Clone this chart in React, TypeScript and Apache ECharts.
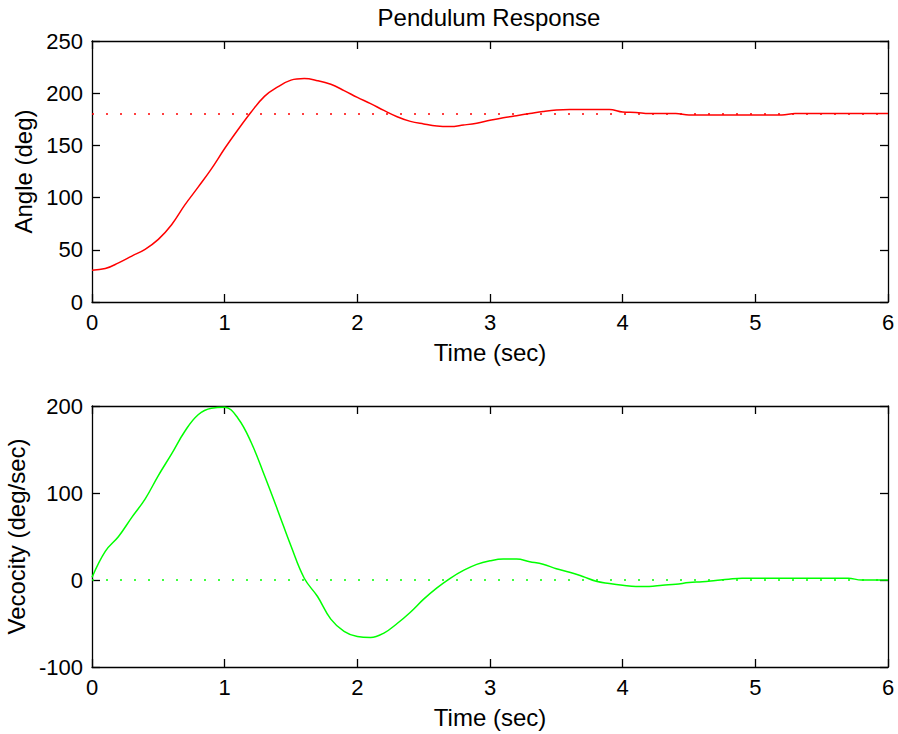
import React, { useEffect, useRef } from "react";
import * as echarts from "echarts";

const time = [
  0, 0.1, 0.2, 0.3, 0.4, 0.5, 0.6, 0.7, 0.8, 0.9,
  1, 1.1, 1.2, 1.3, 1.4, 1.5, 1.6, 1.7, 1.8, 1.9,
  2, 2.1, 2.2, 2.3, 2.4, 2.5, 2.6, 2.7, 2.8, 2.9,
  3, 3.1, 3.2, 3.3, 3.4, 3.5, 3.6, 3.7, 3.8, 3.9,
  4, 4.1, 4.2, 4.3, 4.4, 4.5, 4.6, 4.7, 4.8, 4.9,
  5, 5.1, 5.2, 5.3, 5.4, 5.5, 5.6, 5.7, 5.8, 5.9, 6,
];

const angle = [
  30.5, 32, 37.5, 44, 50.5, 60, 74, 93, 110, 127.5,
  147, 165, 182, 197, 206, 212.5, 214, 212, 208.5, 202.5,
  196, 190, 183.5, 177.5, 173, 170.5, 168.5, 168, 169.5, 171.3,
  174, 176.5, 178.5, 180.5, 182.5, 184, 184.5, 184.5, 184.5, 184.5,
  182, 181.5, 180.5, 180.5, 180.5, 179, 179, 179, 179, 179,
  179, 179, 179, 180.5, 180.5, 180.5, 180.5, 180.5, 180.5, 180.5, 180.5,
];

const velocity = [
  3, 33, 50, 72, 93, 120, 145, 171, 190, 197.5,
  198.5, 186, 158, 120, 80, 39, 2, -19, -45, -59,
  -65, -66, -61, -50, -37, -22, -9, 2, 11, 18,
  22, 24, 24, 21, 18, 13, 9, 4, -1.5, -4,
  -6, -7.4, -7.4, -6, -5, -3, -2, -0.5, 1, 2,
  2, 2, 2, 2, 2, 2, 2, 2, 0, 0, 0,
];

const angleTarget = [180, 180];
const velocityTarget = [0, 0];
const targetTime = [0, 6];

const xTicks = [0, 1, 2, 3, 4, 5, 6];
const angleTicks = [0, 50, 100, 150, 200, 250];
const velocityTicks = [-100, 0, 100, 200];

const FONT = "Liberation Sans, Arial, Helvetica, sans-serif";
const FS = 22;
const FS_NAME = 24;

export default function App() {
  const ref = useRef<HTMLDivElement>(null);

  useEffect(() => {
    if (!ref.current) return;
    const chart = echarts.init(ref.current, null, { renderer: "svg" });

    const axisLine = { show: true, onZero: false, lineStyle: { color: "#000", width: 1.3 } };
    const tick = { show: true, inside: true, length: 8, lineStyle: { color: "#000", width: 1.3 } };
    const label = { color: "#000", fontSize: FS, fontFamily: FONT };
    const nameStyle = { color: "#000", fontSize: FS_NAME, fontFamily: FONT };

    const xMain = (gridIndex: number) => ({
      type: "value",
      gridIndex,
      min: xTicks[0],
      max: xTicks[xTicks.length - 1],
      interval: 1,
      position: "bottom",
      axisLine,
      axisTick: tick,
      splitLine: { show: false },
      axisLabel: { ...label, margin: 9 },
      name: "Time (sec)",
      nameLocation: "middle",
      nameGap: 38,
      nameTextStyle: nameStyle,
    });
    const xMirror = (gridIndex: number) => ({
      type: "value",
      gridIndex,
      min: xTicks[0],
      max: xTicks[xTicks.length - 1],
      interval: 1,
      position: "top",
      axisLine,
      axisTick: tick,
      splitLine: { show: false },
      axisLabel: { show: false },
    });
    const yMain = (gridIndex: number, ticks: number[], name: string, gap: number) => ({
      type: "value",
      gridIndex,
      min: ticks[0],
      max: ticks[ticks.length - 1],
      interval: ticks[1] - ticks[0],
      position: "left",
      axisLine,
      axisTick: tick,
      splitLine: { show: false },
      axisLabel: { ...label, margin: 9 },
      name,
      nameLocation: "middle",
      nameGap: gap,
      nameTextStyle: nameStyle,
    });
    const yMirror = (gridIndex: number, ticks: number[]) => ({
      type: "value",
      gridIndex,
      min: ticks[0],
      max: ticks[ticks.length - 1],
      interval: ticks[1] - ticks[0],
      position: "right",
      axisLine,
      axisTick: tick,
      splitLine: { show: false },
      axisLabel: { show: false },
    });

    const zip = (xs: number[], ys: number[]) => xs.map((x, i) => [x, ys[i]]);

    chart.setOption({
      animation: false,
      backgroundColor: "#fff",
      textStyle: { fontFamily: FONT },
      graphic: [
        {
          type: "text",
          x: 489,
          y: 17,
          style: {
            text: "Pendulum Response",
            fill: "#000",
            font: `${FS_NAME}px ${FONT}`,
            textAlign: "center",
            textVerticalAlign: "middle",
          },
        },
      ],
      grid: [
        { left: 92, top: 41, width: 796, height: 261, containLabel: false, outerBoundsMode: "none" },
        { left: 92, top: 406, width: 796, height: 261, containLabel: false, outerBoundsMode: "none" },
      ],
      xAxis: [xMain(0), xMirror(0), xMain(1), xMirror(1)],
      yAxis: [
        yMain(0, angleTicks, "Angle (deg)", 55),
        yMirror(0, angleTicks),
        yMain(1, velocityTicks, "Vecocity (deg/sec)", 62),
        yMirror(1, velocityTicks),
      ],
      series: [
        {
          type: "line",
          xAxisIndex: 0,
          yAxisIndex: 0,
          data: zip(targetTime, angleTarget),
          showSymbol: false,
          lineStyle: { color: "#ff0000", width: 1.5, type: [2, 12] },
        },
        {
          type: "line",
          xAxisIndex: 0,
          yAxisIndex: 0,
          data: zip(time, angle),
          showSymbol: false,
          smooth: 0.4,
          lineStyle: { color: "#ff0000", width: 1.5 },
        },
        {
          type: "line",
          xAxisIndex: 2,
          yAxisIndex: 2,
          data: zip(targetTime, velocityTarget),
          showSymbol: false,
          lineStyle: { color: "#00ff00", width: 1.5, type: [2, 12] },
        },
        {
          type: "line",
          xAxisIndex: 2,
          yAxisIndex: 2,
          data: zip(time, velocity),
          showSymbol: false,
          smooth: 0.4,
          lineStyle: { color: "#00ff00", width: 1.5 },
        },
      ],
    });

    return () => chart.dispose();
  }, []);

  return (
    <div
      ref={ref}
      style={{ position: "absolute", left: 0, top: 0, width: 898, height: 734, background: "#fff" }}
    />
  );
}
